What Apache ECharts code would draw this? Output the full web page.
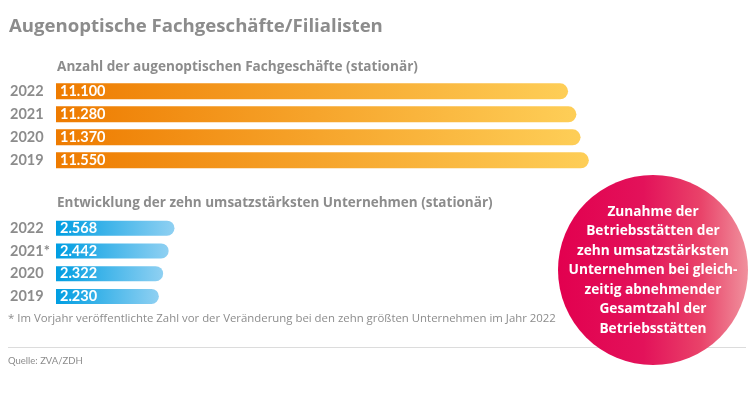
<!DOCTYPE html>
<html><head><meta charset="utf-8">
<script src="https://cdn.jsdelivr.net/npm/echarts@6/dist/echarts.min.js"></script>
<style>html,body{margin:0;padding:0;background:#fff}#c{width:750px;height:395px}</style>
</head><body><div id="c"></div>
<script>
const titleText = 'Augenoptische Fachgeschäfte/Filialisten';
const subtitle1 = 'Anzahl der augenoptischen Fachgeschäfte (stationär)';
const subtitle2 = 'Entwicklung der zehn umsatzstärksten Unternehmen (stationär)';
const years1 = ['2022', '2021', '2020', '2019'];
const values1 = [11100, 11280, 11370, 11550];
const years2 = ['2022', '2021*', '2020', '2019'];
const values2 = [2568, 2442, 2322, 2230];
const bubbleText = 'Zunahme der\nBetriebsstätten der\nzehn umsatzstärksten\nUnternehmen bei gleich-\nzeitig abnehmender\nGesamtzahl der\nBetriebsstätten';
const footnote = '* Im Vorjahr veröffentlichte Zahl vor der Veränderung bei den zehn größten Unternehmen im Jahr 2022';
const source = 'Quelle: ZVA/ZDH';

const FONT = 'Lato';
const FONT2 = '"Open Sans"';
const GRAY = '#8c8c8c';
const fmt = v => String(v).replace(/\B(?=(\d{3})+(?!\d))/g, '.');

const chart = echarts.init(document.getElementById('c'), null, {renderer: 'canvas'});
const grad = (a, b) => new echarts.graphic.LinearGradient(0, 0, 1, 0, [{offset: 0, color: a}, {offset: 1, color: b}]);
const xAx = gi => ({gridIndex: gi, type: 'value', min: 0, max: 15000, show: false});
const yAx = (gi, data) => ({
  gridIndex: gi, type: 'category', data: data, inverse: true,
  axisLine: {show: false}, axisTick: {show: false}, splitLine: {show: false},
  axisLabel: {align: 'left', margin: 46, color: GRAY, fontFamily: FONT, fontWeight: 'bold', fontSize: 14.5}
});
const lbl = {show: true, position: 'insideLeft', distance: 4, color: '#fff', fontFamily: FONT, fontWeight: 'bold', fontSize: 14.5, formatter: p => fmt(p.value)};

chart.setOption({
  animation: false,
  grid: [
    {left: 56, width: 692, top: 79.8, height: 92},
    {left: 56, width: 692, top: 216.8, height: 91}
  ],
  xAxis: [xAx(0), xAx(1)],
  yAxis: [yAx(0, years1), yAx(1, years2)],
  series: [
    {type: 'bar', xAxisIndex: 0, yAxisIndex: 0, data: values1, barWidth: 16,
     itemStyle: {color: grad('#ee7b00', '#fece57'), borderRadius: [0, 8, 8, 0]}, label: lbl},
    {type: 'bar', xAxisIndex: 1, yAxisIndex: 1, data: values2, barWidth: 15,
     itemStyle: {color: grad('#009ee2', '#8fd0f2'), borderRadius: [0, 7.5, 7.5, 0]}, label: lbl}
  ],
  graphic: [
    {type: 'text', left: 9, top: 17.5, style: {text: titleText, fill: GRAY, font: 'bold 18.6px ' + FONT2}},
    {type: 'text', left: 57, top: 60, style: {text: subtitle1, fill: GRAY, font: 'bold 13.6px ' + FONT2}},
    {type: 'text', left: 57, top: 196.5, style: {text: subtitle2, fill: GRAY, font: 'bold 13.5px ' + FONT2}},
    {type: 'text', left: 8, top: 313, style: {text: footnote, fill: GRAY, font: '11.4px ' + FONT2}},
    {type: 'line', shape: {x1: 8, y1: 347.5, x2: 746, y2: 347.5}, style: {stroke: '#dcdcdc', lineWidth: 1}},
    {type: 'text', left: 8, top: 356, style: {text: source, fill: GRAY, font: '9.5px ' + FONT}},
    {type: 'circle', shape: {cx: 653, cy: 270, r: 95}, z: 10,
     style: {fill: new echarts.graphic.LinearGradient(0, 0, 1, 0, [
       {offset: 0, color: '#e2004f'}, {offset: 0.45, color: '#e3125a'}, {offset: 0.75, color: '#e94269'}, {offset: 1, color: '#f0919d'}])}},
    {type: 'text', z: 11, x: 653, y: 270.5,
     style: {text: bubbleText, fill: '#fff', font: 'bold 13.7px ' + FONT2, align: 'center', verticalAlign: 'middle', lineHeight: 19.5}}
  ]
});
</script></body></html>
